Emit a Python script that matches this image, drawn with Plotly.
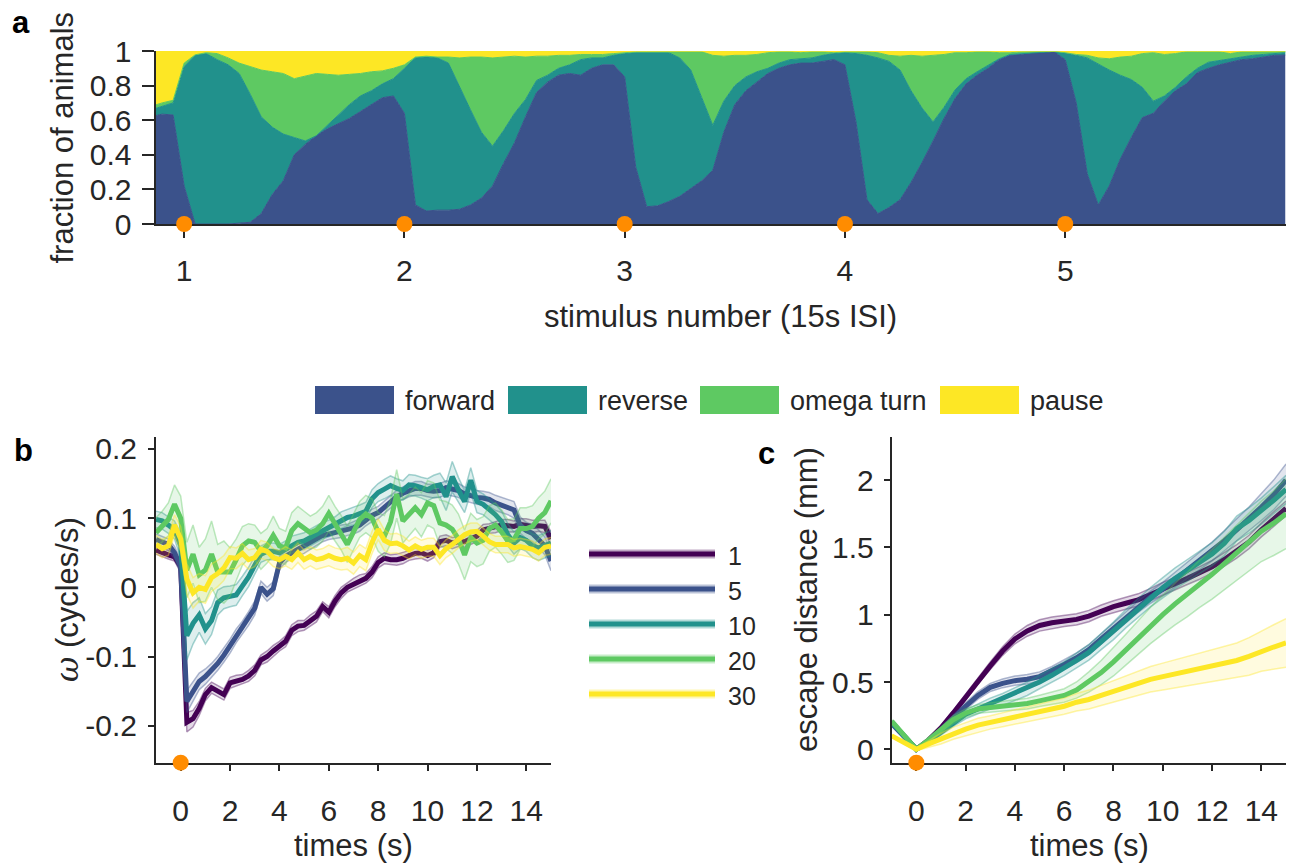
import plotly.graph_objects as go

W, H = 1291, 863
FONT = "Liberation Sans, Arial, Helvetica, sans-serif"
INK = "#262626"
ORANGE = "#ff8c00"

# ---------------- panel a: fraction of animals in each behavioural state ----------------
stim_pos = [round(0.85 + 0.05 * i, 2) for i in range(104)]
stim_ticks = [1, 2, 3, 4, 5]
state_names = ["forward", "reverse", "omega turn", "pause"]
state_colors = ["#3b528b", "#21918c", "#5ec962", "#fde725"]

# cumulative upper edge of the stacked states
cum_forward = [
    0.62, 0.635, 0.63, 0.22, 0.00, 0.00, 0.00, 0.00, 0.005, 0.01, 0.06, 0.17, 0.25,
    0.40, 0.46, 0.51, 0.55, 0.58, 0.61, 0.65, 0.69, 0.73, 0.74, 0.64, 0.11, 0.075,
    0.08, 0.08, 0.085, 0.11, 0.15, 0.22, 0.35, 0.47, 0.62, 0.76, 0.82, 0.86, 0.87,
    0.86, 0.90, 0.92, 0.92, 0.85, 0.33, 0.10, 0.105, 0.13, 0.16, 0.205, 0.25, 0.31,
    0.53, 0.69, 0.77, 0.82, 0.87, 0.90, 0.92, 0.93, 0.93, 0.94, 0.95, 0.92, 0.59,
    0.14, 0.06, 0.095, 0.14, 0.24, 0.355, 0.48, 0.61, 0.725, 0.81, 0.86, 0.90, 0.95,
    0.975, 0.98, 0.99, 0.99, 0.995, 0.95, 0.70, 0.29, 0.11, 0.22, 0.375, 0.50, 0.615,
    0.64, 0.71, 0.77, 0.81, 0.875, 0.90, 0.92, 0.935, 0.95, 0.955, 0.965, 0.975, 0.977,
]
cum_reverse = [
    0.66, 0.68, 0.70, 0.91, 0.975, 0.985, 0.95, 0.92, 0.87, 0.75, 0.62, 0.56, 0.52,
    0.50, 0.48, 0.51, 0.57, 0.63, 0.69, 0.74, 0.77, 0.81, 0.84, 0.90, 0.96, 0.967,
    0.96, 0.93, 0.79, 0.66, 0.53, 0.45, 0.54, 0.64, 0.72, 0.83, 0.86, 0.90, 0.92,
    0.95, 0.96, 0.96, 0.975, 0.985, 0.99, 0.99, 0.99, 0.99, 0.96, 0.89, 0.73, 0.57,
    0.71, 0.80, 0.85, 0.88, 0.90, 0.93, 0.95, 0.955, 0.96, 0.975, 0.985, 0.99, 0.985,
    0.975, 0.96, 0.94, 0.89, 0.77, 0.67, 0.59, 0.675, 0.775, 0.84, 0.88, 0.915, 0.955,
    0.98, 0.985, 0.99, 0.995, 0.997, 0.99, 0.975, 0.96, 0.925, 0.89, 0.86, 0.835, 0.79,
    0.71, 0.74, 0.79, 0.85, 0.90, 0.935, 0.945, 0.955, 0.965, 0.975, 0.98, 0.985, 0.99,
]
cum_omega = [
    0.68, 0.70, 0.715, 0.93, 0.978, 0.99, 0.985, 0.96, 0.93, 0.91, 0.89, 0.88, 0.87,
    0.84, 0.855, 0.87, 0.865, 0.86, 0.865, 0.87, 0.88, 0.885, 0.90, 0.92, 0.965, 0.97,
    0.965, 0.965, 0.96, 0.965, 0.965, 0.96, 0.965, 0.97, 0.965, 0.97, 0.97, 0.975, 0.975,
    0.98, 0.98, 0.98, 0.985, 0.99, 0.995, 0.995, 0.995, 0.995, 0.995, 0.995, 0.995, 0.975,
    0.97, 0.975, 0.975, 0.98, 0.99, 0.995, 0.995, 0.99, 0.995, 0.995, 0.99, 0.995, 0.995,
    0.995, 0.99, 0.975, 0.97, 0.975, 0.97, 0.975, 0.98, 0.99, 0.99, 0.995, 0.995, 0.99,
    0.99, 0.995, 0.995, 0.998, 0.998, 0.99, 0.98, 0.975, 0.96, 0.955, 0.965, 0.97, 0.985,
    0.99, 0.98, 0.985, 0.995, 0.995, 0.995, 0.995, 0.985, 0.995, 0.995, 0.997, 0.997, 0.997,
]
cum_pause = [1.0] * len(stim_pos)

# ---------------- panel b: angular velocity after stimulus n ----------------
stim_labels = ["1", "5", "10", "20", "30"]
stim_colors = ["#440154", "#3b528b", "#21918c", "#5ec962", "#fde725"]
t_omega = [-1 + 0.25 * i for i in range(65)]

omega_1 = [
    0.054, 0.050, 0.047, 0.044, 0.030, -0.195, -0.190, -0.175, -0.155, -0.145, -0.150, -0.155, -0.138,
    -0.135, -0.133, -0.128, -0.120, -0.105, -0.100, -0.092, -0.085, -0.078, -0.062, -0.056, -0.055, -0.048,
    -0.042, -0.028, -0.036, -0.020, -0.008, 0.000, 0.005, 0.010, 0.013, 0.022, 0.036, 0.042, 0.040,
    0.040, 0.042, 0.046, 0.049, 0.050, 0.046, 0.050, 0.066, 0.068, 0.064, 0.066, 0.066, 0.070,
    0.074, 0.083, 0.085, 0.087, 0.090, 0.089, 0.088, 0.091, 0.090, 0.088, 0.089, 0.088, 0.070,
]
omega_5 = [
    0.069, 0.066, 0.062, 0.050, 0.030, -0.165, -0.150, -0.136, -0.129, -0.120, -0.110, -0.098, -0.085,
    -0.070, -0.058, -0.045, -0.030, 0.000, -0.010, -0.002, 0.035, 0.045, 0.050, 0.054, 0.058, 0.064,
    0.070, 0.075, 0.077, 0.079, 0.081, 0.083, 0.086, 0.090, 0.098, 0.104, 0.108, 0.116, 0.124,
    0.131, 0.136, 0.140, 0.143, 0.143, 0.140, 0.139, 0.140, 0.144, 0.142, 0.140, 0.135, 0.132,
    0.130, 0.129, 0.127, 0.122, 0.119, 0.116, 0.112, 0.090, 0.082, 0.078, 0.070, 0.060, 0.038,
]
omega_10 = [
    0.098, 0.096, 0.090, 0.083, 0.060, -0.070, -0.052, -0.040, -0.060, -0.048, -0.022, -0.015, -0.013,
    -0.011, 0.002, 0.015, 0.032, 0.048, 0.052, 0.052, 0.050, 0.055, 0.062, 0.065, 0.067, 0.072,
    0.077, 0.082, 0.085, 0.090, 0.097, 0.101, 0.103, 0.106, 0.110, 0.128, 0.137, 0.142, 0.147,
    0.143, 0.140, 0.148, 0.147, 0.144, 0.141, 0.146, 0.148, 0.131, 0.160, 0.141, 0.124, 0.155,
    0.124, 0.120, 0.113, 0.105, 0.095, 0.076, 0.064, 0.072, 0.068, 0.060, 0.057, 0.060, 0.064,
]
omega_20 = [
    0.079, 0.088, 0.098, 0.120, 0.100, 0.025, 0.048, 0.018, 0.025, 0.048, 0.022, 0.022, 0.022,
    0.040, 0.060, 0.067, 0.065, 0.052, 0.060, 0.075, 0.060, 0.057, 0.082, 0.092, 0.085, 0.079,
    0.083, 0.092, 0.107, 0.092, 0.079, 0.062, 0.080, 0.098, 0.106, 0.100, 0.080, 0.074, 0.095,
    0.135, 0.096, 0.105, 0.115, 0.105, 0.122, 0.118, 0.093, 0.090, 0.084, 0.070, 0.047, 0.072,
    0.064, 0.068, 0.085, 0.090, 0.080, 0.067, 0.069, 0.085, 0.085, 0.088, 0.100, 0.108, 0.125,
]
omega_30 = [
    0.062, 0.056, 0.060, 0.090, 0.070, 0.012, -0.008, 0.000, -0.003, 0.014, 0.020, 0.028, 0.043,
    0.042, 0.049, 0.040, 0.043, 0.055, 0.052, 0.043, 0.040, 0.045, 0.040, 0.050, 0.040, 0.045,
    0.040, 0.042, 0.046, 0.042, 0.040, 0.042, 0.035, 0.046, 0.040, 0.065, 0.084, 0.068, 0.063,
    0.064, 0.060, 0.054, 0.060, 0.055, 0.058, 0.058, 0.046, 0.056, 0.062, 0.070, 0.076, 0.080,
    0.081, 0.074, 0.066, 0.062, 0.062, 0.062, 0.057, 0.059, 0.057, 0.055, 0.050, 0.058, 0.060,
]
omega_sem_1 = [
    0.006, 0.006, 0.006, 0.006, 0.008, 0.014, 0.012, 0.010, 0.009, 0.008, 0.008, 0.008, 0.008,
    0.008, 0.007, 0.008, 0.008, 0.007, 0.008, 0.008, 0.007, 0.008, 0.008, 0.008, 0.007, 0.008,
    0.008, 0.007, 0.008, 0.008, 0.008, 0.007, 0.008, 0.008, 0.007, 0.008, 0.008, 0.008, 0.007,
    0.008, 0.008, 0.007, 0.008, 0.008, 0.008, 0.007, 0.008, 0.008, 0.008, 0.007, 0.008, 0.008,
    0.008, 0.008, 0.007, 0.008, 0.008, 0.009, 0.008, 0.008, 0.009, 0.009, 0.008, 0.009, 0.010,
]
omega_sem_5 = [
    0.008, 0.008, 0.008, 0.009, 0.010, 0.016, 0.014, 0.012, 0.011, 0.010, 0.010, 0.010, 0.010,
    0.010, 0.009, 0.010, 0.010, 0.009, 0.010, 0.010, 0.009, 0.009, 0.009, 0.009, 0.009, 0.009,
    0.009, 0.009, 0.008, 0.009, 0.009, 0.008, 0.009, 0.009, 0.009, 0.009, 0.009, 0.009, 0.009,
    0.009, 0.009, 0.009, 0.010, 0.010, 0.009, 0.010, 0.010, 0.010, 0.010, 0.010, 0.010, 0.010,
    0.010, 0.010, 0.010, 0.011, 0.011, 0.011, 0.012, 0.012, 0.012, 0.012, 0.013, 0.013, 0.014,
]
omega_sem_10 = [
    0.012, 0.012, 0.012, 0.013, 0.018, 0.035, 0.030, 0.025, 0.022, 0.020, 0.018, 0.016, 0.015,
    0.015, 0.014, 0.014, 0.013, 0.012, 0.012, 0.012, 0.012, 0.012, 0.012, 0.012, 0.012, 0.012,
    0.012, 0.012, 0.012, 0.012, 0.012, 0.012, 0.013, 0.013, 0.013, 0.013, 0.013, 0.014, 0.014,
    0.014, 0.014, 0.015, 0.015, 0.015, 0.016, 0.016, 0.017, 0.020, 0.022, 0.018, 0.016, 0.018,
    0.016, 0.015, 0.015, 0.015, 0.015, 0.016, 0.016, 0.016, 0.016, 0.017, 0.018, 0.018, 0.018,
]
omega_sem_20 = [
    0.022, 0.022, 0.024, 0.028, 0.032, 0.040, 0.042, 0.040, 0.045, 0.048, 0.040, 0.045, 0.035,
    0.030, 0.028, 0.025, 0.025, 0.026, 0.025, 0.028, 0.025, 0.024, 0.026, 0.025, 0.025, 0.024,
    0.025, 0.025, 0.026, 0.025, 0.025, 0.026, 0.026, 0.026, 0.027, 0.028, 0.028, 0.030, 0.032,
    0.035, 0.032, 0.030, 0.030, 0.032, 0.032, 0.033, 0.033, 0.034, 0.035, 0.036, 0.036, 0.035,
    0.034, 0.034, 0.033, 0.032, 0.032, 0.031, 0.030, 0.030, 0.030, 0.030, 0.030, 0.031, 0.032,
]
omega_sem_30 = [
    0.013, 0.013, 0.014, 0.015, 0.018, 0.022, 0.022, 0.020, 0.020, 0.020, 0.019, 0.018, 0.016,
    0.015, 0.014, 0.014, 0.013, 0.013, 0.013, 0.013, 0.013, 0.014, 0.014, 0.014, 0.014, 0.014,
    0.014, 0.014, 0.015, 0.015, 0.015, 0.016, 0.016, 0.016, 0.016, 0.016, 0.015, 0.015, 0.014,
    0.014, 0.014, 0.013, 0.013, 0.013, 0.013, 0.013, 0.013, 0.013, 0.013, 0.013, 0.013, 0.013,
    0.012, 0.012, 0.012, 0.012, 0.012, 0.012, 0.012, 0.012, 0.012, 0.012, 0.012, 0.012, 0.012,
]

# ---------------- panel c: escape distance after stimulus n ----------------
t_escape = [-1 + 0.5 * i for i in range(33)]
escape_1 = [
    0.20, 0.10, 0.00, 0.07, 0.16, 0.27, 0.39, 0.51, 0.62, 0.73, 0.82, 0.88, 0.92,
    0.94, 0.955, 0.965, 0.99, 1.03, 1.06, 1.085, 1.11, 1.15, 1.195, 1.23, 1.27,
    1.31, 1.356, 1.41, 1.47, 1.54, 1.63, 1.71, 1.79,
]
escape_5 = [
    0.19, 0.095, 0.00, 0.06, 0.14, 0.23, 0.32, 0.40, 0.46, 0.49, 0.51, 0.52, 0.54,
    0.58, 0.63, 0.68, 0.74, 0.82, 0.90, 0.98, 1.06, 1.13, 1.19, 1.26, 1.33,
    1.40, 1.47, 1.55, 1.63, 1.71, 1.80, 1.89, 2.00,
]
escape_10 = [
    0.20, 0.10, 0.00, 0.06, 0.13, 0.20, 0.26, 0.30, 0.34, 0.37, 0.41, 0.45, 0.50,
    0.55, 0.60, 0.66, 0.72, 0.80, 0.88, 0.97, 1.05, 1.13, 1.20, 1.27, 1.33,
    1.39, 1.45, 1.53, 1.64, 1.70, 1.77, 1.85, 1.93,
]
escape_20 = [
    0.21, 0.105, 0.00, 0.07, 0.14, 0.22, 0.27, 0.30, 0.31, 0.32, 0.33, 0.34, 0.36,
    0.38, 0.40, 0.44, 0.50, 0.57, 0.65, 0.74, 0.83, 0.92, 1.00, 1.08, 1.15,
    1.23, 1.30, 1.38, 1.46, 1.54, 1.62, 1.68, 1.75,
]
escape_30 = [
    0.10, 0.05, 0.00, 0.04, 0.08, 0.12, 0.15, 0.18, 0.20, 0.22, 0.24, 0.26, 0.28,
    0.30, 0.32, 0.35, 0.37, 0.40, 0.43, 0.46, 0.49, 0.52, 0.54, 0.56, 0.58,
    0.60, 0.62, 0.64, 0.66, 0.69, 0.73, 0.76, 0.79,
]
escape_sem_1 = [
    0.010, 0.010, 0.010, 0.012, 0.015, 0.020, 0.022, 0.025, 0.028, 0.032, 0.036, 0.040, 0.042,
    0.042, 0.042, 0.042, 0.042, 0.042, 0.044, 0.045, 0.045, 0.045, 0.045, 0.046, 0.046,
    0.047, 0.048, 0.050, 0.050, 0.050, 0.052, 0.055, 0.055,
]
escape_sem_5 = [
    0.010, 0.010, 0.010, 0.015, 0.020, 0.022, 0.025, 0.028, 0.030, 0.032, 0.034, 0.035, 0.035,
    0.035, 0.036, 0.036, 0.037, 0.038, 0.040, 0.040, 0.042, 0.045, 0.050, 0.055, 0.060,
    0.065, 0.070, 0.075, 0.080, 0.090, 0.100, 0.110, 0.120,
]
escape_sem_10 = [
    0.010, 0.010, 0.010, 0.020, 0.025, 0.030, 0.033, 0.036, 0.040, 0.045, 0.048, 0.050, 0.050,
    0.050, 0.052, 0.055, 0.058, 0.060, 0.065, 0.068, 0.070, 0.072, 0.075, 0.078, 0.080,
    0.083, 0.086, 0.090, 0.093, 0.095, 0.098, 0.100, 0.105,
]
escape_sem_20 = [
    0.010, 0.010, 0.010, 0.020, 0.025, 0.030, 0.030, 0.032, 0.034, 0.036, 0.038, 0.040, 0.042,
    0.045, 0.050, 0.060, 0.075, 0.090, 0.105, 0.115, 0.125, 0.135, 0.145, 0.155, 0.165,
    0.175, 0.185, 0.195, 0.205, 0.215, 0.225, 0.240, 0.260,
]
escape_sem_30 = [
    0.010, 0.010, 0.010, 0.025, 0.040, 0.045, 0.050, 0.050, 0.050, 0.052, 0.054, 0.055, 0.056,
    0.058, 0.060, 0.065, 0.070, 0.075, 0.080, 0.085, 0.090, 0.095, 0.100, 0.105, 0.110,
    0.115, 0.120, 0.125, 0.130, 0.140, 0.150, 0.165, 0.180,
]

omega_series = [omega_1, omega_5, omega_10, omega_20, omega_30]
omega_sems = [omega_sem_1, omega_sem_5, omega_sem_10, omega_sem_20, omega_sem_30]
escape_series = [escape_1, escape_5, escape_10, escape_20, escape_30]
escape_sems = [escape_sem_1, escape_sem_5, escape_sem_10, escape_sem_20, escape_sem_30]

# axis limits
A_X, A_Y = [0.87, 6.0], [0.0, 1.0]
B_X, B_Y = [-1.0, 15.0], [-0.2535, 0.2173]
C_X, C_Y = [-1.0, 15.0], [-0.0995, 2.32]


def rgba(hex_color, alpha):
    h = hex_color.lstrip("#")
    r, g, b = int(h[0:2], 16), int(h[2:4], 16), int(h[4:6], 16)
    return f"rgba({r},{g},{b},{alpha})"


def px(x):
    return x / W


def py(y):
    return 1 - y / H


# subplot frames (pixel edges turned into paper fractions)
DOM_A = ([px(155.5), px(1285.5)], [py(224), py(51)])
DOM_B = ([px(156), px(551)], [py(762.7), py(437)])
DOM_C = ([px(891.7), px(1286)], [py(762.7), py(437)])

fig = go.Figure()

# stacked state areas
edges = [cum_forward, cum_reverse, cum_omega, cum_pause]
for i, (name, col, top) in enumerate(zip(state_names, state_colors, edges)):
    fig.add_trace(go.Scatter(
        x=stim_pos, y=top, name=name, mode="lines",
        line=dict(color=col, width=1),
        fill="tozeroy" if i == 0 else "tonexty", fillcolor=col,
        xaxis="x", yaxis="y", showlegend=False, hoverinfo="skip",
    ))


def add_band_series(t, mean, sem, col, xa, ya, edge_alpha, fill_alpha):
    upper = [m + s for m, s in zip(mean, sem)]
    lower = [m - s for m, s in zip(mean, sem)]
    fig.add_trace(go.Scatter(x=t, y=upper, mode="lines", xaxis=xa, yaxis=ya,
                             line=dict(color=rgba(col, edge_alpha), width=1.5),
                             showlegend=False, hoverinfo="skip"))
    fig.add_trace(go.Scatter(x=t, y=lower, mode="lines", xaxis=xa, yaxis=ya,
                             line=dict(color=rgba(col, edge_alpha), width=1.5),
                             fill="tonexty", fillcolor=rgba(col, fill_alpha),
                             showlegend=False, hoverinfo="skip"))
    fig.add_trace(go.Scatter(x=t, y=mean, mode="lines", xaxis=xa, yaxis=ya,
                             line=dict(color=col, width=5),
                             showlegend=False, hoverinfo="skip"))


for mean, sem, col in zip(omega_series, omega_sems, stim_colors):
    add_band_series(t_omega, mean, sem, col, "x2", "y2", 0.4, 0.15)

for mean, sem, col in zip(escape_series, escape_sems, stim_colors):
    add_band_series(t_escape, mean, sem, col, "x3", "y3", 0.4, 0.15)

# stimulus onset markers on a transparent layer stacked over each panel,
# so they sit on top of the axis line instead of underneath it
onset_layers = [
    ("x4", "y4", stim_ticks, [A_Y[0]] * len(stim_ticks)),
    ("x5", "y5", [0], [B_Y[0]]),
    ("x6", "y6", [0], [C_Y[0]]),
]
for xa, ya, xs, ys in onset_layers:
    fig.add_trace(go.Scatter(x=xs, y=ys, mode="markers", xaxis=xa, yaxis=ya,
                             marker=dict(color=ORANGE, size=16, line=dict(width=0)),
                             cliponaxis=False, showlegend=False, hoverinfo="skip"))

tick_font = dict(family=FONT, size=30, color=INK)
axis_common = dict(showgrid=False, zeroline=False, showline=True, linecolor=INK,
                   linewidth=2, ticks="outside", tickcolor=INK, tickwidth=2,
                   tickfont=tick_font, fixedrange=True, automargin=False)
hidden = dict(visible=False, showgrid=False, zeroline=False, fixedrange=True, automargin=False)

fig.update_layout(
    template="none",
    width=W, height=H, autosize=False,
    margin=dict(l=0, r=0, t=0, b=0, pad=0),
    paper_bgcolor="white", plot_bgcolor="rgba(0,0,0,0)",
    font=dict(family=FONT, color=INK),
    xaxis=dict(domain=DOM_A[0], range=A_X, anchor="y",
               tickvals=stim_ticks, ticktext=[str(v) for v in stim_ticks],
               ticklen=12, ticklabelstandoff=7, **axis_common),
    yaxis=dict(domain=DOM_A[1], range=A_Y, anchor="x",
               tickvals=[0, 0.2, 0.4, 0.6, 0.8, 1],
               ticktext=["0", "0.2", "0.4", "0.6", "0.8", "1"],
               ticklen=12, ticklabelstandoff=4, **axis_common),
    xaxis2=dict(domain=DOM_B[0], range=B_X, anchor="y2",
                tickvals=[0, 2, 4, 6, 8, 10, 12, 14],
                ticktext=["0", "2", "4", "6", "8", "10", "12", "14"],
                ticklen=6, ticklabelstandoff=14, **axis_common),
    yaxis2=dict(domain=DOM_B[1], range=B_Y, anchor="x2",
                tickvals=[-0.2, -0.1, 0, 0.1, 0.2],
                ticktext=["-0.2", "-0.1", "0", "0.1", "0.2"],
                ticklen=6, ticklabelstandoff=5, **axis_common),
    xaxis3=dict(domain=DOM_C[0], range=C_X, anchor="y3",
                tickvals=[0, 2, 4, 6, 8, 10, 12, 14],
                ticktext=["0", "2", "4", "6", "8", "10", "12", "14"],
                ticklen=6, ticklabelstandoff=14, **axis_common),
    yaxis3=dict(domain=DOM_C[1], range=C_Y, anchor="x3",
                tickvals=[0, 0.5, 1, 1.5, 2],
                ticktext=["0", "0.5", "1", "1.5", "2"],
                ticklen=6, ticklabelstandoff=4, **axis_common),
    xaxis4=dict(domain=DOM_A[0], range=A_X, anchor="y4", **hidden),
    yaxis4=dict(domain=DOM_A[1], range=A_Y, anchor="x4", **hidden),
    xaxis5=dict(domain=DOM_B[0], range=B_X, anchor="y5", **hidden),
    yaxis5=dict(domain=DOM_B[1], range=B_Y, anchor="x5", **hidden),
    xaxis6=dict(domain=DOM_C[0], range=C_X, anchor="y6", **hidden),
    yaxis6=dict(domain=DOM_C[1], range=C_Y, anchor="x6", **hidden),
)

shapes = []
annotations = []


def text(x, y, s, size, bold=False, angle=0, xanchor="center", yanchor="middle"):
    annotations.append(dict(x=px(x), y=py(y), xref="paper", yref="paper", text=f"<b>{s}</b>" if bold else s,
                            showarrow=False, font=dict(family=FONT, size=size, color="black" if bold else INK),
                            textangle=angle, xanchor=xanchor, yanchor=yanchor))


# state legend row
legend_patch_x = [315, 508, 700, 940]
for x0, name, col in zip(legend_patch_x, state_names, state_colors):
    shapes.append(dict(type="rect", xref="paper", yref="paper", x0=px(x0), x1=px(x0 + 79),
                       y0=py(414), y1=py(386), fillcolor=col, line=dict(width=0)))
    text(x0 + 88, 401, name, 27, xanchor="left")

# stimulus-number legend for panels b and c
legend_line_y = [554, 589, 624, 659, 694]
for yy, lab, col in zip(legend_line_y, stim_labels, stim_colors):
    shapes.append(dict(type="line", xref="paper", yref="paper", x0=px(589), x1=px(715),
                       y0=py(yy), y1=py(yy), line=dict(color=rgba(col, 0.35), width=9)))
    shapes.append(dict(type="line", xref="paper", yref="paper", x0=px(589), x1=px(715),
                       y0=py(yy), y1=py(yy), line=dict(color=col, width=5)))
    text(726, yy + 2, lab, 25, xanchor="left")

# panel letters and axis titles
text(21, 22, "a", 31, bold=True)
text(23, 450, "b", 31, bold=True)
text(766, 453, "c", 31, bold=True)
text(62, 137.5, "fraction of animals", 31, angle=-90)
text(720, 316, "stimulus number (15s ISI)", 31)
text(67, 600, "<span style=\"font-family:DejaVu Serif\"><i>ω</i></span> (cycles/s)", 31, angle=-90)
text(353.5, 845, "times (s)", 31)
text(806, 600, "escape distance (mm)", 31, angle=-90)
text(1089, 845, "times (s)", 31)

fig.update_layout(shapes=shapes, annotations=annotations)
fig.write_html("out.html")
